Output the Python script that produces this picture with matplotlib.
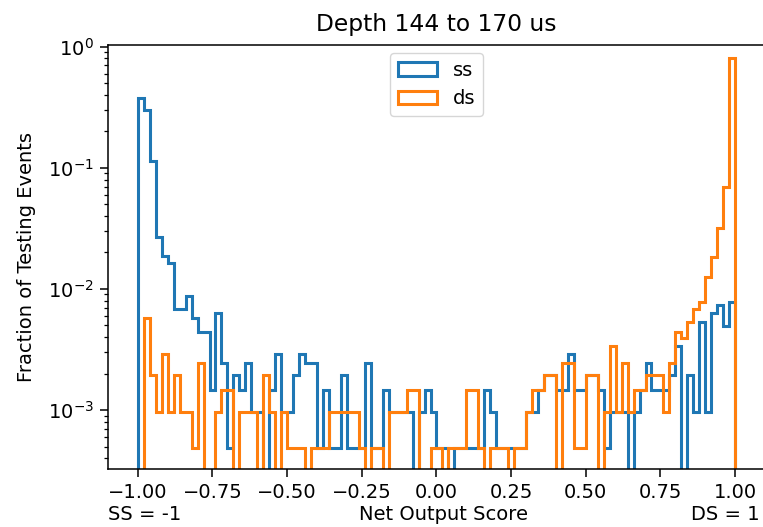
import numpy as np
import matplotlib
matplotlib.use("Agg")
import matplotlib.pyplot as plt

# bin edges: 100 bins from -1 to 1
bin_lo, bin_hi, n_bins = -1.0, 1.0, 100

# fraction of testing events per bin
ss_frac = [
    0.377, 0.300, 0.113, 0.0267, 0.0187, 0.0163, 0.0068, 0.0068, 0.0087, 0.0058,
    0.0044, 0.0044, 0.00146, 0.0063, 0.00243, 0.00049, 0.00194, 0.00146, 0.00243, 0.00097,
    0.00097, 0.0, 0.00146, 0.00291, 0.00097, 0.00097, 0.00194, 0.00291, 0.00243, 0.00243,
    0.00049, 0.00146, 0.00049, 0.00049, 0.00194, 0.00049, 0.00049, 0.00049, 0.00243, 0.00049,
    0.00049, 0.00146, 0.00097, 0.00097, 0.00097, 0.00097, 0.0, 0.00097, 0.00146, 0.00097,
    0.00049, 0.00049, 0.0, 0.00049, 0.00049, 0.00049, 0.00049, 0.00049, 0.00146, 0.00097,
    0.00049, 0.00049, 0.00049, 0.00049, 0.00049, 0.00097, 0.00097, 0.00146, 0.00194, 0.00194,
    0.00146, 0.00146, 0.00291, 0.00146, 0.00146, 0.00194, 0.00194, 0.00146, 0.00049, 0.00097,
    0.00097, 0.00097, 0.0, 0.00097, 0.00146, 0.00243, 0.00146, 0.00146, 0.00146, 0.00194,
    0.0034, 0.0, 0.00194, 0.00097, 0.0053, 0.00097, 0.0063, 0.0073, 0.0049, 0.0078,
]
ds_frac = [
    0.0, 0.0058, 0.00194, 0.00097, 0.00291, 0.00097, 0.00194, 0.00097, 0.00097, 0.00049,
    0.00243, 0.0, 0.0, 0.00097, 0.00146, 0.00146, 0.0, 0.00097, 0.00097, 0.00097,
    0.0, 0.00194, 0.00097, 0.0, 0.00097, 0.00049, 0.00049, 0.00049, 0.0, 0.00049,
    0.00049, 0.00049, 0.00097, 0.00097, 0.00097, 0.00097, 0.00097, 0.00049, 0.0, 0.00049,
    0.00049, 0.0, 0.00097, 0.00097, 0.00097, 0.00146, 0.00146, 0.0, 0.0, 0.00049,
    0.00049, 0.0, 0.00049, 0.00049, 0.00049, 0.00146, 0.00146, 0.00049, 0.0, 0.00049,
    0.00049, 0.00049, 0.0, 0.00049, 0.00049, 0.00097, 0.00146, 0.00146, 0.00194, 0.00194,
    0.0, 0.00243, 0.00243, 0.00049, 0.00049, 0.00194, 0.00194, 0.0, 0.00097, 0.0034,
    0.00097, 0.00243, 0.00097, 0.00146, 0.00146, 0.00194, 0.00194, 0.00194, 0.00097, 0.00243,
    0.0044, 0.0039, 0.0053, 0.0068, 0.0078, 0.0126, 0.0185, 0.0317, 0.070, 0.800,
]

series_names = ["ss", "ds"]
colors = ["#1f77b4", "#ff7f0e"]

edges = np.linspace(bin_lo, bin_hi, n_bins + 1)
centers = 0.5 * (edges[:-1] + edges[1:])

fig = plt.figure(figsize=(7.63, 5.27), dpi=100)
ax = fig.add_axes([0.1415, 0.110, 0.8611, 0.8046])

for vals, name, c in zip([ss_frac, ds_frac], series_names, colors):
    ax.hist(centers, bins=edges, weights=vals, histtype="step",
            color=c, linewidth=2.2, label=name, log=True)

ax.set_xlim(-1.1, 1.1)
ax.set_ylim(10 ** -3.487, 10 ** 0.014)
ax.set_xticks([-1.0, -0.75, -0.5, -0.25, 0.0, 0.25, 0.5, 0.75, 1.0])

fs = 14
ax.tick_params(labelsize=fs, width=1.1, length=5.5, pad=4.5)
ax.tick_params(which="minor", width=0.9, length=3.2)
for s in ax.spines.values():
    s.set_linewidth(1.1)

ax.set_title("Depth 144 to 170 us", fontsize=16.8, pad=10)
ax.set_ylabel("Fraction of Testing Events", fontsize=fs, labelpad=9)
ax.set_xlabel("Net Output Score", fontsize=fs)
ax.xaxis.set_label_coords(0.511, -0.086)
ax.text(0.0, -0.086, "SS = -1", transform=ax.transAxes, fontsize=fs,
        ha="left", va="top")
ax.text(0.992, -0.086, "DS = 1", transform=ax.transAxes, fontsize=fs,
        ha="right", va="top")

ax.legend(loc="upper center", fontsize=fs, borderaxespad=0.4)

fig.savefig("out.png", dpi=100)
